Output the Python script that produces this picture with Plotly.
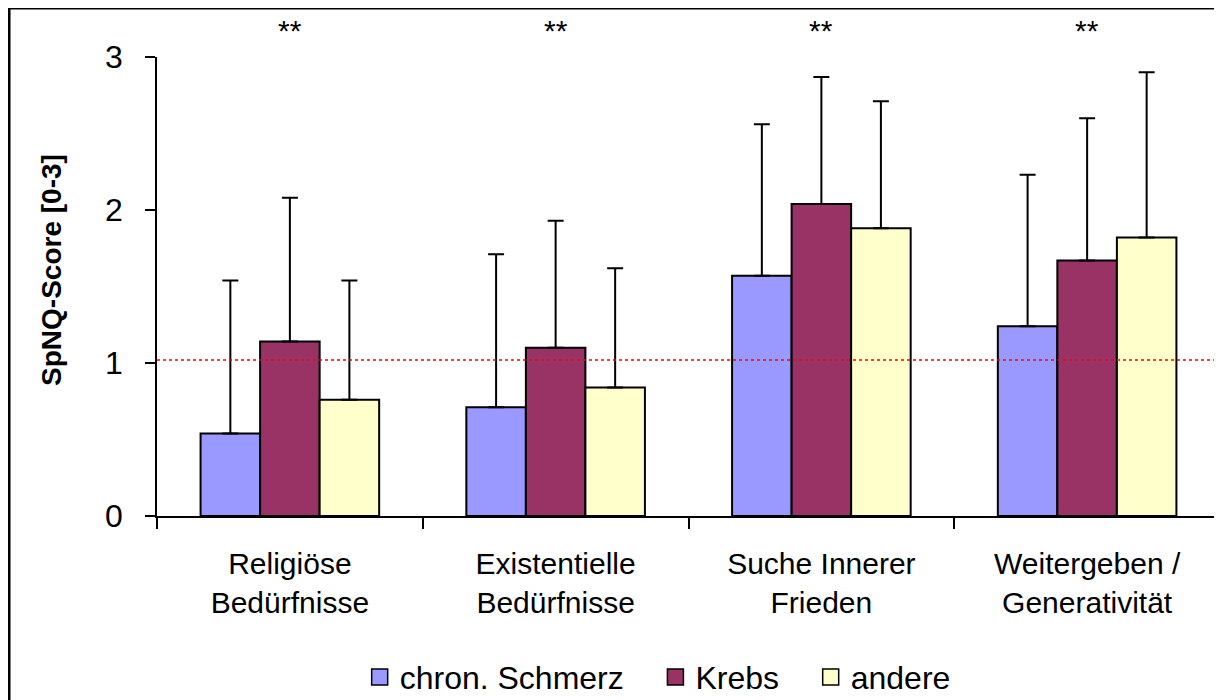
import plotly.graph_objects as go

categories = ["Religiöse<br>Bedürfnisse", "Existentielle<br>Bedürfnisse",
              "Suche Innerer<br>Frieden", "Weitergeben /<br>Generativität"]
series_names = ["chron. Schmerz", "Krebs", "andere"]
mean_schmerz = [0.54, 0.71, 1.57, 1.24]
mean_krebs = [1.14, 1.10, 2.04, 1.67]
mean_andere = [0.76, 0.84, 1.88, 1.82]
sd_schmerz = [1.00, 1.00, 0.99, 0.99]
sd_krebs = [0.94, 0.83, 0.83, 0.93]
sd_andere = [0.78, 0.78, 0.83, 1.08]
significance = ["**", "**", "**", "**"]
reference_line = 1.02
y_ticks = [0, 1, 2, 3]

colors = ["#9999FF", "#993366", "#FFFFCC"]
means = [mean_schmerz, mean_krebs, mean_andere]
sds = [sd_schmerz, sd_krebs, sd_andere]

FONT = "Liberation Sans, Arial, sans-serif"
NB = "\u00a0"

fig = go.Figure()
for name, m, s, c in zip(series_names, means, sds, colors):
    fig.add_trace(go.Bar(
        x=categories, y=m, name=name, showlegend=False,
        marker=dict(color=c, line=dict(color="black", width=2)),
        error_y=dict(type="data", array=s, arrayminus=[0] * len(s),
                     symmetric=False, color="black", thickness=2, width=8),
    ))
legend_pad = [NB * 3, NB * 3, ""]
for name, c, pad in zip(series_names, colors, legend_pad):
    fig.add_trace(go.Scatter(
        x=[None], y=[None], mode="markers", name=name + pad,
        marker=dict(symbol="square", size=16, color=c,
                    line=dict(color="black", width=1.5)),
    ))

# reference line
fig.add_shape(type="line", xref="paper", yref="y", x0=0, x1=1,
              y0=reference_line, y1=reference_line,
              line=dict(color="red", width=1.5, dash="dot"))

# significance stars
for cat, sig in zip(categories, significance):
    fig.add_annotation(x=cat, y=1.058, xref="x", yref="paper", text=sig,
                       showarrow=False, yanchor="middle",
                       font=dict(size=30, color="black", family=FONT))

# y axis title
fig.add_annotation(text="<b>SpNQ-Score [0-3]</b>", textangle=-90,
                   xref="paper", yref="paper", x=-0.0988, y=0.536,
                   xanchor="center", yanchor="middle",
                   showarrow=False, font=dict(size=28, color="black", family=FONT))

# outer frame
fig.add_shape(type="rect", xref="paper", yref="paper",
              x0=-0.1392, x1=1.2, y0=-0.6, y1=1.1068,
              line=dict(color="black", width=3), layer="above")

fig.update_layout(
    width=1222, height=700,
    margin=dict(l=149, r=10, t=49, b=192, autoexpand=False),
    paper_bgcolor="white", plot_bgcolor="white",
    barmode="group", bargap=0.328, bargroupgap=0,
    font=dict(family=FONT, color="black", size=30),
    legend=dict(orientation="h", xref="paper", yref="paper",
                x=0.471, xanchor="center", y=-0.351, yanchor="middle",
                font=dict(size=32, family=FONT), bgcolor="rgba(0,0,0,0)",
                itemsizing="trace"),
    xaxis=dict(showline=True, linecolor="black", linewidth=1.5, automargin=False,
               ticks="outside", tickson="boundaries", ticklen=11,
               tickcolor="black", tickwidth=1.5, ticklabelstandoff=20,
               tickfont=dict(size=30, family=FONT), showgrid=False),
    yaxis=dict(range=[0, 3], tickvals=y_ticks, showline=True, linecolor="black",
               linewidth=1.5, ticks="outside", ticklen=10, tickcolor="black",
               automargin=False,
               tickwidth=1.5, ticklabelstandoff=16, showgrid=False, zeroline=False,
               tickfont=dict(size=32, family=FONT)),
)

fig.write_html("out.html")
